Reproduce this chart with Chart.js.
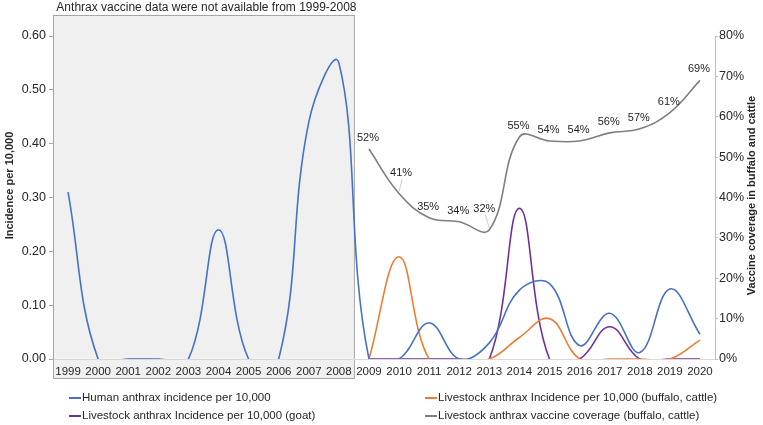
<!DOCTYPE html>
<html>
<head>
<meta charset="utf-8">
<script src="https://cdn.jsdelivr.net/npm/chart.js@4.4.1/dist/chart.umd.min.js"></script>
<style>
  html, body { margin: 0; padding: 0; background: #fff; }
</style>
</head>
<body>
<canvas id="anthraxChart" width="763" height="425"></canvas>
<script>
// categories
const years = ['1999', '2000', '2001', '2002', '2003', '2004', '2005', '2006', '2007', '2008',
    '2009', '2010', '2011', '2012', '2013', '2014', '2015', '2016', '2017', '2018', '2019', '2020'];

// incidence per 10,000 (left axis)
const humanIncidence = [0.31, 0, 0, 0, 0, 0.24, 0, 0, 0.44, 0.55,
    0, 0, 0.067, 0, 0.03, 0.128, 0.14, 0.025, 0.085, 0.012, 0.13, 0.046];
const buffaloIncidence = [null, null, null, null, null, null, null, null, null, null,
    0, 0.19, 0, 0, 0, 0.04, 0.075, 0, 0, 0, 0, 0.035];
const goatIncidence = [null, null, null, null, null, null, null, null, null, null,
    0, 0, 0, 0, 0, 0.28, 0, 0, 0.06, 0, 0, 0];

// vaccine coverage in % (right axis)
const vaccineCoverage = [null, null, null, null, null, null, null, null, null, null,
    52, 41, 35, 34, 32, 55, 54, 54, 56, 57, 61, 69];

const leftTicks = [0, 0.1, 0.2, 0.3, 0.4, 0.5, 0.6];
const rightTicks = [0, 10, 20, 30, 40, 50, 60, 70, 80];

const noteText = 'Anthrax vaccine data were not available from 1999-2008';
const leftTitle = 'Incidence per 10,000';
const rightTitle = 'Vaccine coverage in buffalo and cattle';

const FONT = '"Liberation Sans", Arial, sans-serif';
const TEXT = '#262626';

// gray box for the years without vaccine data, plus its caption
const noDataBox = {
    id: 'noDataBox',
    beforeDraw(chart) {
        const { ctx, chartArea, scales } = chart;
        const x = scales.x;
        const right = (x.getPixelForValue(9) + x.getPixelForValue(10)) / 2;
        const top = chartArea.top - 21;
        const bottom = chartArea.bottom + 19;
        ctx.save();
        ctx.fillStyle = '#f0f0f0';
        ctx.fillRect(chartArea.left, top, right - chartArea.left, bottom - top);
        ctx.strokeStyle = '#a6a6a6';
        ctx.lineWidth = 1;
        ctx.strokeRect(chartArea.left + 0.5, top + 0.5, right - chartArea.left, bottom - top);
        ctx.fillStyle = TEXT;
        ctx.font = '12px ' + FONT;
        ctx.textAlign = 'center';
        ctx.textBaseline = 'middle';
        ctx.fillText(noteText, (chartArea.left + right) / 2 + 3, 8);
        ctx.restore();
    }
};

// percent labels on the coverage line, legend and axis titles
const extras = {
    id: 'extras',
    afterDatasetsDraw(chart) {
        const { ctx, chartArea } = chart;
        const meta = chart.getDatasetMeta(3);
        ctx.save();
        ctx.font = '11px ' + FONT;
        ctx.fillStyle = TEXT;
        ctx.textAlign = 'center';
        ctx.textBaseline = 'middle';
        meta.data.forEach((pt, i) => {
            const v = vaccineCoverage[i];
            if (v == null) return;
            let lift = 12;
            let dx = 0;
            if (years[i] === '2010') { lift = 21; dx = 3; }
            if (years[i] === '2013') { lift = 22; dx = -4; }
            if (lift > 12) {
                ctx.strokeStyle = '#bfbfbf';
                ctx.lineWidth = 0.8;
                ctx.beginPath();
                ctx.moveTo(pt.x + dx, pt.y - lift + 7);
                ctx.lineTo(pt.x, pt.y - 2);
                ctx.stroke();
            }
            ctx.fillText(v + '%', pt.x + dx - 1, pt.y - lift + 1);
        });

        // legend, two columns
        ctx.font = '11.5px ' + FONT;
        ctx.textAlign = 'left';
        const colX = [69, 425];
        const rowY = [398, 416];
        chart.data.datasets.forEach((ds, i) => {
            const x0 = colX[i % 2];
            const y0 = rowY[Math.floor(i / 2)];
            ctx.strokeStyle = ds.borderColor;
            ctx.lineWidth = 2;
            ctx.beginPath();
            ctx.moveTo(x0, y0);
            ctx.lineTo(x0 + 12, y0);
            ctx.stroke();
            ctx.fillStyle = TEXT;
            ctx.fillText(ds.label, x0 + 13, y0);
        });

        // axis titles, both reading bottom to top
        ctx.font = 'bold 11px ' + FONT;
        ctx.textAlign = 'center';
        const midY = (chartArea.top + chartArea.bottom) / 2;
        [[10, leftTitle, -12], [752, rightTitle, -2]].forEach(([x, t, off]) => {
            ctx.save();
            ctx.translate(x, midY + off);
            ctx.rotate(-Math.PI / 2);
            ctx.fillText(t, 0, 0);
            ctx.restore();
        });
        ctx.restore();
    }
};

const lineStyle = { borderWidth: 1.6, pointRadius: 0, fill: false, tension: 0.4 };

new Chart(document.getElementById('anthraxChart').getContext('2d'), {
    type: 'line',
    data: {
        labels: years,
        datasets: [
            { label: 'Human anthrax incidence per 10,000', data: humanIncidence,
              borderColor: '#4472c4', yAxisID: 'y', ...lineStyle },
            { label: 'Livestock anthrax Incidence per 10,000 (buffalo, cattle)', data: buffaloIncidence,
              borderColor: '#ed7d31', yAxisID: 'y', ...lineStyle },
            { label: 'Livestock anthrax Incidence per 10,000 (goat)', data: goatIncidence,
              borderColor: '#7030a0', yAxisID: 'y', ...lineStyle },
            { label: 'Livestock anthrax vaccine coverage (buffalo, cattle)', data: vaccineCoverage,
              borderColor: '#7f7f7f', yAxisID: 'y1', ...lineStyle }
        ]
    },
    options: {
        responsive: false,
        animation: false,
        devicePixelRatio: 1,
        layout: { padding: { top: 36, bottom: 46, left: 0, right: 0 } },
        elements: { line: { capBezierPoints: false } },
        plugins: { legend: { display: false }, tooltip: { enabled: false } },
        scales: {
            x: {
                offset: true,
                grid: { display: true, drawOnChartArea: false, drawTicks: false },
                border: { color: '#d9d9d9' },
                ticks: { color: TEXT, font: { family: FONT, size: 11.5 }, padding: 6, maxRotation: 0, autoSkip: false },
                afterFit(s) { s.height = 20; }
            },
            y: {
                position: 'left',
                min: 0, max: 0.6,
                afterBuildTicks(s) { s.ticks = leftTicks.map(v => ({ value: v })); },
                grid: { display: true, drawOnChartArea: false, drawTicks: true, tickLength: 4, color: '#a6a6a6' },
                border: { color: '#a6a6a6' },
                ticks: { color: TEXT, font: { family: FONT, size: 12.5 }, padding: 3,
                         callback: v => v.toFixed(2) },
                afterFit(s) { s.width = 53; }
            },
            y1: {
                position: 'right',
                min: 0, max: 80,
                afterBuildTicks(s) { s.ticks = rightTicks.map(v => ({ value: v })); },
                grid: { display: true, drawOnChartArea: false, drawTicks: true, tickLength: 3, color: '#bfbfbf' },
                border: { color: '#bfbfbf' },
                ticks: { color: TEXT, font: { family: FONT, size: 12.5 }, padding: 1,
                         callback: v => v + '%' },
                afterFit(s) { s.width = 48; }
            }
        }
    },
    plugins: [noDataBox, extras]
});
</script>
</body>
</html>
